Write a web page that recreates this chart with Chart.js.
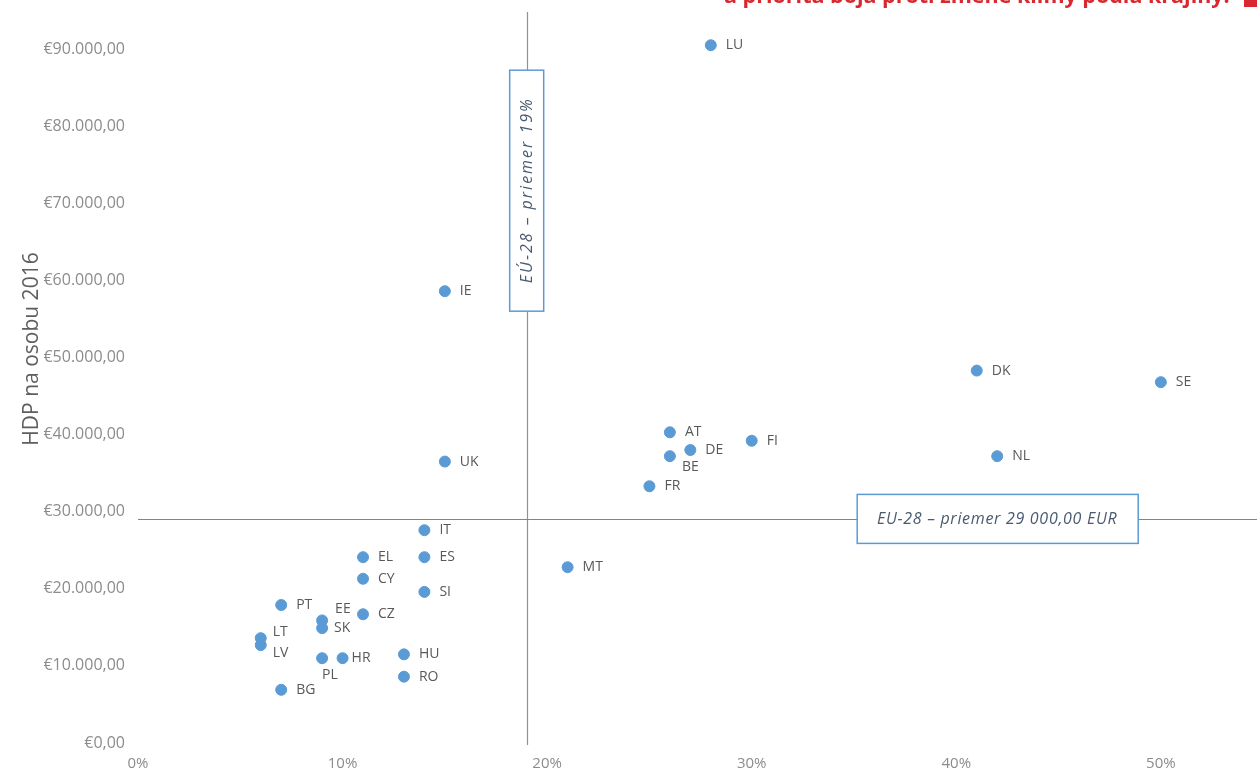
<!DOCTYPE html>
<html>
<head>
<meta charset="utf-8">
<script src="https://cdn.jsdelivr.net/npm/chart.js@4"></script>
<style>
  html, body { margin: 0; padding: 0; background: #fff; overflow: hidden; }
  #wrap { position: relative; width: 1257px; height: 775px; }
  #head { position: absolute; top: -20px; left: 724px; font: bold 21.5px "Liberation Sans Narrow", "Open Sans", sans-serif;
          color: #d9282f; white-space: nowrap; }
  #bar { position: absolute; top: 0; left: 1244px; width: 13px; height: 7px; background: #d9282f; }
</style>
</head>
<body>
<div id="wrap">
  <canvas id="chart" width="1257" height="775"></canvas>
  <div id="head">a priorita boja proti zmene klímy podľa krajiny.</div>
  <div id="bar"></div>
</div>
<script>
// countries, share of climate priority (%) and GDP per capita 2016 (EUR)
var countries = ['LU', 'IE', 'DK', 'SE', 'AT', 'FI', 'DE', 'BE', 'NL', 'UK', 'FR', 'IT', 'EL', 'ES', 'CY', 'MT',
                 'SI', 'PT', 'EE', 'CZ', 'SK', 'LT', 'LV', 'HU', 'PL', 'HR', 'RO', 'BG'];
var share = [28, 15, 41, 50, 26, 30, 27, 26, 42, 15, 25, 14, 11, 14, 11, 21,
             14, 7, 9, 11, 9, 6, 6, 13, 9, 10, 13, 7];
var gdp = [90500, 58600, 48300, 46800, 40300, 39200, 38000, 37200, 37200, 36500, 33300, 27600, 24100, 24100, 21300, 22800,
           19600, 17900, 15900, 16700, 14900, 13600, 12700, 11500, 11000, 11000, 8600, 6900];
var avgShare = 19;
var avgGdp = 29000;
var xTicks = [0, 10, 20, 30, 40, 50];
var yTicks = [0, 10000, 20000, 30000, 40000, 50000, 60000, 70000, 80000, 90000];

// label offsets where the default (right of point) is not used
var labelShift = {
    EE: [13, -11], SK: [12, 0], LT: [12, -6], LV: [12, 8],
    PL: [0, 17], HR: [9, 0], BE: [12, 11]
};

function euro(v) {
    var s = String(Math.round(v)).replace(/\B(?=(\d{3})+(?!\d))/g, '.');
    return '€' + s + ',00';
}

function noPad(s) {
    s.paddingTop = 0; s.paddingBottom = 0; s.paddingLeft = 0; s.paddingRight = 0;
}

var points = share.map(function (s, i) { return { x: s, y: gdp[i] }; });

var overlay = {
    id: 'overlay',
    beforeDatasetsDraw: function (c) {
        var x = c.scales.x, y = c.scales.y, ctx = c.ctx, a = c.chartArea;
        ctx.save();
        ctx.lineWidth = 1.2;
        ctx.strokeStyle = '#7f98a6';
        var vx = Math.round(x.getPixelForValue(avgShare)) + 0.5;
        ctx.beginPath(); ctx.moveTo(vx, a.top); ctx.lineTo(vx, a.bottom + 2); ctx.stroke();
        ctx.strokeStyle = '#6e8c95';
        var hy = Math.round(y.getPixelForValue(avgGdp)) + 0.5;
        ctx.beginPath(); ctx.moveTo(a.left, hy); ctx.lineTo(a.right, hy); ctx.stroke();

        // y axis title
        ctx.translate(32, 349);
        ctx.rotate(-Math.PI / 2);
        ctx.font = '21px "Open Sans", sans-serif';
        ctx.fillStyle = '#5f5f5f';
        ctx.textAlign = 'center';
        ctx.textBaseline = 'middle';
        ctx.fillText('HDP na osobu 2016', 0, 0);
        ctx.restore();
    },
    afterDatasetsDraw: function (c) {
        var x = c.scales.x, y = c.scales.y, ctx = c.ctx;
        ctx.save();
        // country labels
        ctx.font = '14px "Open Sans", sans-serif';
        ctx.fillStyle = '#595959';
        ctx.textBaseline = 'middle';
        ctx.textAlign = 'left';
        countries.forEach(function (code, i) {
            var px = x.getPixelForValue(share[i]), py = y.getPixelForValue(gdp[i]);
            var d = labelShift[code] || [15, 0];
            ctx.fillText(code, px + d[0], py + d[1]);
        });

        // average boxes
        ctx.lineWidth = 1.5;
        ctx.strokeStyle = '#5b9bd5';
        ctx.font = 'italic 16px "Open Sans", sans-serif';
        ctx.textAlign = 'center';
        var vx = x.getPixelForValue(avgShare);
        var vy = y.getPixelForValue(71700);
        ctx.fillStyle = '#fff';
        ctx.fillRect(vx - 17, vy - 120, 34, 241);
        ctx.strokeRect(vx - 17, vy - 120, 34, 241);
        ctx.translate(vx, vy);
        ctx.rotate(-Math.PI / 2);
        ctx.fillStyle = '#4a5a70';
        ctx.letterSpacing = '2px';
        ctx.fillText('EÚ-28 – priemer 19%', 0, 1);
        ctx.setTransform(1, 0, 0, 1, 0, 0);

        var bx = x.getPixelForValue(42.0);
        var by = y.getPixelForValue(avgGdp) - 1;
        ctx.fillStyle = '#fff';
        ctx.fillRect(bx - 140, by - 24, 281, 49);
        ctx.strokeRect(bx - 140, by - 24, 281, 49);
        ctx.fillStyle = '#4a5a70';
        ctx.letterSpacing = '0.7px';
        ctx.fillText('EU-28 – priemer 29 000,00 EUR', bx, by + 1);
        ctx.restore();
    }
};

var ctx = document.getElementById('chart').getContext('2d');
var chart = new Chart(ctx, {
    type: 'scatter',
    data: {
        datasets: [{
            data: points,
            backgroundColor: '#5b9bd5',
            borderColor: '#5b9bd5',
            pointRadius: 5.5,
            pointHoverRadius: 5.5
        }]
    },
    options: {
        responsive: false,
        animation: false,
        events: [],
        layout: { autoPadding: false, padding: { top: 12, right: 0, left: 0, bottom: 0 } },
        plugins: { legend: { display: false }, tooltip: { enabled: false } },
        scales: {
            x: {
                type: 'linear',
                min: 0,
                max: 54.7,
                afterBuildTicks: function (s) { s.ticks = xTicks.map(function (v) { return { value: v }; }); },
                afterFit: function (s) { s.height = 32; noPad(s); },
                grid: { display: false, drawTicks: false },
                border: { display: false },
                ticks: {
                    padding: 12,
                    maxRotation: 0,
                    color: '#8c8c8c',
                    font: { family: 'Open Sans', size: 15 },
                    callback: function (v) { return v + '%'; }
                }
            },
            y: {
                min: 0,
                max: 94810,
                afterBuildTicks: function (s) { s.ticks = yTicks.map(function (v) { return { value: v }; }); },
                afterFit: function (s) { s.width = 138; noPad(s); },
                grid: { display: false, drawTicks: false },
                border: { display: false },
                ticks: {
                    padding: 13,
                    color: '#8c8c8c',
                    font: { family: 'Open Sans', size: 16 },
                    callback: function (v) { return euro(v); }
                }
            }
        }
    },
    plugins: [overlay]
});
</script>
</body>
</html>
